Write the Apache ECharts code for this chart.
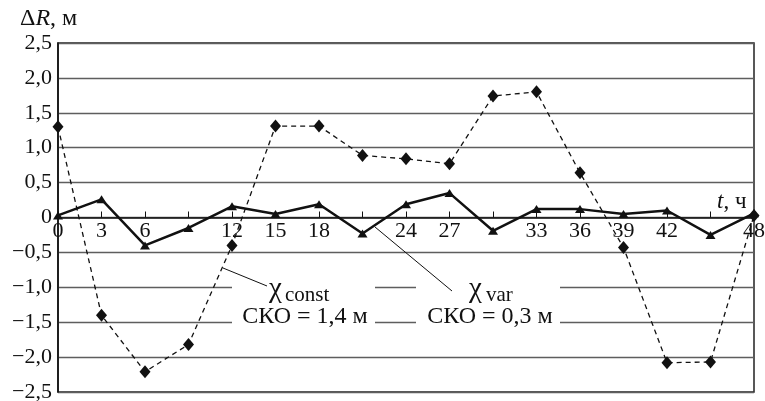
<!DOCTYPE html>
<html>
<head>
<meta charset="utf-8">
<script src="https://cdn.jsdelivr.net/npm/echarts@6/dist/echarts.min.js"></script>
<style>
html,body{margin:0;padding:0;background:#fff;}
#chart{width:765px;height:401px;}
</style>
</head>
<body>
<div id="chart"></div>
<script>
// ---- data ----
const tValues = [0, 3, 6, 9, 12, 15, 18, 21, 24, 27, 30, 33, 36, 39, 42, 45, 48];
const chiConst = [1.30, -1.40, -2.21, -1.82, -0.40, 1.31, 1.31, 0.89, 0.84, 0.77, 1.74, 1.80, 0.64, -0.43, -2.08, -2.07, 0.03];
const chiVar = [0.03, 0.26, -0.40, -0.15, 0.16, 0.05, 0.19, -0.23, 0.19, 0.35, -0.19, 0.12, 0.12, 0.05, 0.10, -0.25, 0.06];
const xTickLabelsShown = [0, 3, 6, 12, 15, 18, 24, 27, 33, 36, 39, 42, 48];
const yTickLabels = ['\u22122,5', '\u22122,0', '\u22121,5', '\u22121,0', '\u22120,5', '0', '0,5', '1,0', '1,5', '2,0', '2,5'];
const labelConst = ['\u03c7', 'const', '\u0421\u041a\u041e = 1,4 \u043c'];
const labelVar = ['\u03c7', 'var', '\u0421\u041a\u041e = 0,3 \u043c'];

const FONT = '"Liberation Serif", "DejaVu Serif", serif';
const INK = '#111';
const GRID_TOP = 43, GRID_BOTTOM = 9, CHART_H = 401;
const Y_MIN = -2.5, Y_MAX = 2.5;
// distance (px) from the bottom of the grid up to the zero line
const zeroOffset = (CHART_H - GRID_TOP - GRID_BOTTOM) * (0 - Y_MIN) / (Y_MAX - Y_MIN);

const chart = echarts.init(document.getElementById('chart'), null, {renderer: 'canvas'});

const option = {
  animation: false,
  backgroundColor: '#fff',
  grid: {
    left: 58, right: 11, top: GRID_TOP, bottom: GRID_BOTTOM,
    show: true, borderColor: '#222', borderWidth: 1.5,
    containLabel: false, outerBoundsMode: 'none'
  },
  xAxis: {
    type: 'value', min: 0, max: 48, interval: 3,
    position: 'bottom', offset: -zeroOffset,
    axisLine: {onZero: false, lineStyle: {color: INK, width: 1.6}},
    axisTick: {show: true, inside: true, length: 6, lineStyle: {color: INK, width: 1}},
    axisLabel: {
      margin: 3, color: INK, fontFamily: FONT, fontSize: 22,
      formatter: v => xTickLabelsShown.indexOf(v) >= 0 ? String(v) : ''
    },
    splitLine: {show: false}
  },
  yAxis: {
    type: 'value', min: Y_MIN, max: Y_MAX, interval: 0.5,
    axisLine: {show: true, onZero: false, lineStyle: {color: INK, width: 1.6}},
    axisTick: {show: false},
    axisLabel: {
      margin: 6, color: INK, fontFamily: FONT, fontSize: 22,
      formatter: v => yTickLabels[Math.round((v - Y_MIN) / 0.5)]
    },
    splitLine: {show: true, lineStyle: {color: '#5e5e5e', width: 1.4}}
  },
  series: [
    {
      name: 'const', type: 'line', z: 3,
      data: tValues.map((t, i) => [t, chiConst[i]]),
      symbol: 'diamond', symbolSize: [11, 13],
      lineStyle: {color: INK, width: 1.3, type: [5, 4]},
      itemStyle: {color: INK}
    },
    {
      name: 'var', type: 'line', z: 2,
      data: tValues.map((t, i) => [t, chiVar[i]]),
      symbol: 'triangle', symbolSize: [10, 8],
      lineStyle: {color: INK, width: 2.5},
      itemStyle: {color: INK}
    }
  ]
};
chart.setOption(option);

const yM1 = chart.convertToPixel({yAxisIndex: 0}, -1.0);
const yM15 = chart.convertToPixel({yAxisIndex: 0}, -1.5);
const gaps = [[232, 375], [416, 560]];
const graphics = [];
[yM1, yM15].forEach(y => {
  gaps.forEach(g => {
    graphics.push({type: 'rect', z: 1, shape: {x: g[0], y: y - 3, width: g[1] - g[0], height: 6}, style: {fill: '#fff'}, silent: true});
  });
});
graphics.push(
  {type: 'line', z: 10, shape: {x1: 223, y1: 268, x2: 267, y2: 286}, style: {stroke: INK, lineWidth: 1}},
  {type: 'line', z: 10, shape: {x1: 375, y1: 227, x2: 452, y2: 291}, style: {stroke: INK, lineWidth: 1}},
  {type: 'text', z: 10, x: 269, y: 289, style: {text: labelConst[0], font: '29px ' + FONT, fill: INK, align: 'left', verticalAlign: 'middle'}},
  {type: 'text', z: 10, x: 285, y: 295, style: {text: labelConst[1], font: '21px ' + FONT, fill: INK, align: 'left', verticalAlign: 'middle'}},
  {type: 'text', z: 10, x: 305, y: 317, style: {text: labelConst[2], font: '24px ' + FONT, fill: INK, align: 'center', verticalAlign: 'middle'}},
  {type: 'text', z: 10, x: 469, y: 289, style: {text: labelVar[0], font: '29px ' + FONT, fill: INK, align: 'left', verticalAlign: 'middle'}},
  {type: 'text', z: 10, x: 486, y: 295, style: {text: labelVar[1], font: '21px ' + FONT, fill: INK, align: 'left', verticalAlign: 'middle'}},
  {type: 'text', z: 10, x: 490, y: 317, style: {text: labelVar[2], font: '24px ' + FONT, fill: INK, align: 'center', verticalAlign: 'middle'}},
  {type: 'text', z: 10, x: 20, y: 19, style: {
    text: '{n|\u0394}{i|R}{n|, \u043c}', fill: INK, verticalAlign: 'middle', align: 'left',
    rich: {n: {fontFamily: FONT, fontSize: 24, fill: INK, color: INK}, i: {fontFamily: FONT, fontSize: 24, fontStyle: 'italic', fill: INK, color: INK}}
  }},
  {type: 'text', z: 10, x: 717, y: 202, style: {
    text: '{i|t}{n|, \u0447}', fill: INK, verticalAlign: 'middle', align: 'left',
    rich: {n: {fontFamily: FONT, fontSize: 23, fill: INK, color: INK}, i: {fontFamily: FONT, fontSize: 23, fontStyle: 'italic', fill: INK, color: INK}}
  }}
);
chart.setOption({graphic: graphics});
</script>
</body>
</html>
